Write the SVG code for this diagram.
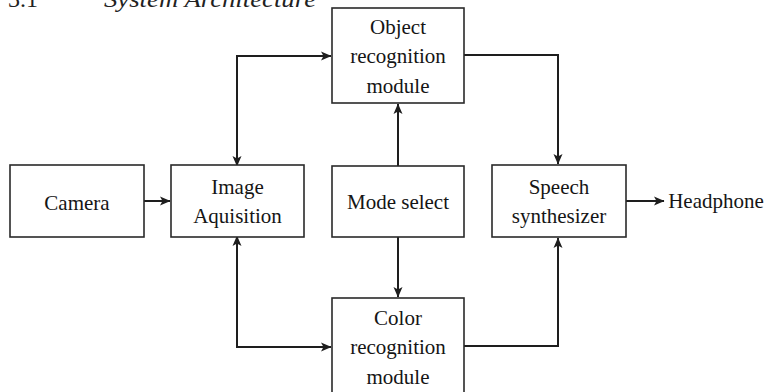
<svg xmlns="http://www.w3.org/2000/svg" width="764" height="392" viewBox="0 0 764 392">
<style>
.box{fill:#fff;stroke:#2a2a2a;stroke-width:1.6}
.lbl{font-family:"Liberation Serif","DejaVu Serif",serif;font-size:21px;fill:#151515;text-anchor:middle}
.con{fill:none;stroke:#1e1e1e;stroke-width:2}
.hdr{font-family:"Liberation Serif","DejaVu Serif",serif;font-size:24px;fill:#222}
</style>
<defs>
<marker id="ah" markerUnits="userSpaceOnUse" markerWidth="12" markerHeight="10" refX="10" refY="5" orient="auto-start-reverse" viewBox="0 0 12 10">
<path d="M0,0.5 L10.5,5 L0,9.5 L2.5,5 z" fill="#1e1e1e"/>
</marker>
</defs>
<rect width="764" height="392" fill="#fff"/>
<text class="hdr" x="8" y="7">3.1</text>
<text class="hdr" x="104" y="7" font-style="italic" textLength="212" lengthAdjust="spacingAndGlyphs">System Architecture</text>
<g id="connectors">
<path class="con" d="M144,201 H170" marker-end="url(#ah)"/>
<path class="con" d="M237,166 V56 H331" marker-start="url(#ah)" marker-end="url(#ah)"/>
<path class="con" d="M237,236 V347 H331" marker-start="url(#ah)" marker-end="url(#ah)"/>
<path class="con" d="M398,166 V104" marker-end="url(#ah)"/>
<path class="con" d="M398,237 V297" marker-end="url(#ah)"/>
<path class="con" d="M464,55 H558 V164" marker-end="url(#ah)"/>
<path class="con" d="M464,346 H558 V238" marker-end="url(#ah)"/>
<path class="con" d="M626,201 H664" marker-end="url(#ah)"/>
</g>
<g id="camera">
<rect class="box" x="10" y="165" width="134" height="72"/>
<text class="lbl" x="77" y="210">Camera</text>
</g>
<g id="image-aquisition">
<rect class="box" x="171" y="165" width="133" height="72"/>
<text class="lbl" x="237.5" y="194">Image</text>
<text class="lbl" x="237.5" y="223">Aquisition</text>
</g>
<g id="object-recognition">
<rect class="box" x="332" y="8" width="132" height="95"/>
<text class="lbl" x="398" y="34">Object</text>
<text class="lbl" x="398" y="63">recognition</text>
<text class="lbl" x="398" y="93">module</text>
</g>
<g id="mode-select">
<rect class="box" x="332" y="166" width="132" height="71"/>
<text class="lbl" x="398" y="209">Mode select</text>
</g>
<g id="color-recognition">
<rect class="box" x="332" y="298" width="132" height="96"/>
<text class="lbl" x="398" y="325">Color</text>
<text class="lbl" x="398" y="354">recognition</text>
<text class="lbl" x="398" y="384">module</text>
</g>
<g id="speech-synthesizer">
<rect class="box" x="492" y="165" width="134" height="72"/>
<text class="lbl" x="559" y="194">Speech</text>
<text class="lbl" x="559" y="223">synthesizer</text>
</g>
<g id="headphone">
<text class="lbl" x="716" y="208">Headphone</text>
</g>
</svg>
